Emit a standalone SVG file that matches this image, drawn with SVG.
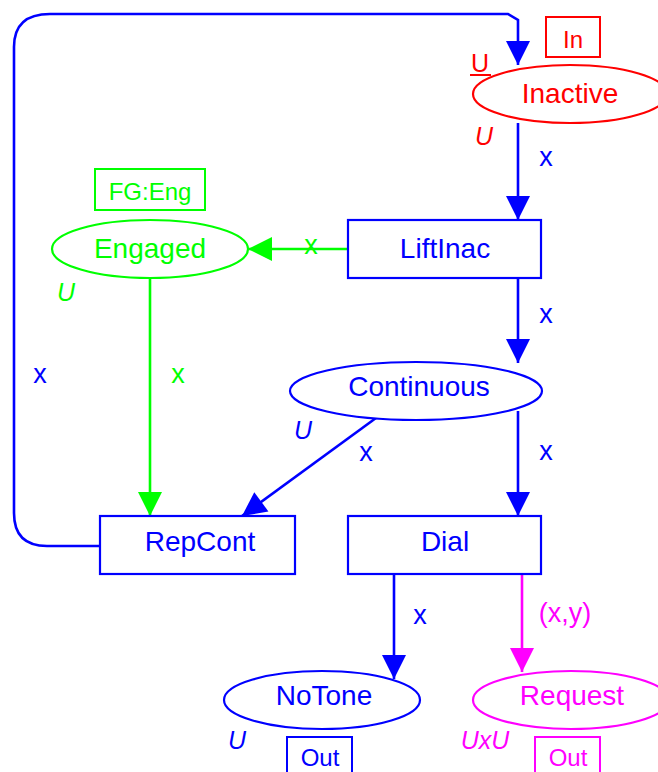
<svg xmlns="http://www.w3.org/2000/svg" width="658" height="772" viewBox="0 0 658 772">
<style>
text{font-family:"Liberation Sans",Arial,sans-serif;text-anchor:middle}
.n{font-size:28px}
.b{font-size:24px}
.l{font-size:27px}
.u{font-size:25px;font-style:italic}
.blue{fill:#0000ff}.red{fill:#ff0000}.green{fill:#00ff00}.mag{fill:#ff00ff}
.sb{stroke:#0000ff}.sr{stroke:#ff0000}.sg{stroke:#00ff00}.sm{stroke:#ff00ff}
.shape{fill:#fff;stroke-width:2.2}
.tag{fill:none;stroke-width:2}
.c{fill:none;stroke-width:2.6}
</style>
<defs>
<marker id="ab" markerUnits="userSpaceOnUse" markerWidth="26" markerHeight="26" refX="24" refY="12" orient="auto" overflow="visible"><path d="M0,0 L24,12 L0,24 z" fill="#0000ff"/></marker>
<marker id="ag" markerUnits="userSpaceOnUse" markerWidth="26" markerHeight="26" refX="24" refY="12" orient="auto" overflow="visible"><path d="M0,0 L24,12 L0,24 z" fill="#00ff00"/></marker>
<marker id="am" markerUnits="userSpaceOnUse" markerWidth="26" markerHeight="26" refX="24" refY="12" orient="auto" overflow="visible"><path d="M0,0 L24,12 L0,24 z" fill="#ff00ff"/></marker>
</defs>
<rect width="658" height="772" fill="#fff"/>
<g id="connectors">
<path class="c sb" d="M100,546 L47,546 Q14,546 14,513 L14,47 Q14,14 50,14 L508,14 L518,20 L518,65" marker-end="url(#ab)"/>
<text class="l blue" x="40" y="383">x</text>
<path class="c sb" d="M518,123 L518,220" marker-end="url(#ab)"/>
<text class="l blue" x="546" y="166">x</text>
<path class="c sg" d="M348,249 L248,249" marker-end="url(#ag)"/>
<text class="l green" x="311" y="254">x</text>
<path class="c sg" d="M150,278 L150,516" marker-end="url(#ag)"/>
<text class="l green" x="178" y="383">x</text>
<path class="c sb" d="M518,278 L518,363" marker-end="url(#ab)"/>
<text class="l blue" x="546" y="323">x</text>
<path class="c sb" d="M518,411 L518,516" marker-end="url(#ab)"/>
<text class="l blue" x="546" y="460">x</text>
<path class="c sb" d="M376,418 L242,516" marker-end="url(#ab)"/>
<text class="l blue" x="366" y="461">x</text>
<path class="c sb" d="M394,574 L394,679" marker-end="url(#ab)"/>
<text class="l blue" x="420" y="624">x</text>
<path class="c sm" d="M522,574 L522,672" marker-end="url(#am)"/>
<text class="l mag" x="565" y="622">(x,y)</text>
</g>
<g id="Inactive">
<ellipse class="shape sr" cx="570" cy="94" rx="97" ry="29"/>
<text class="n red" x="570" y="103">Inactive</text>
<rect class="tag sr" x="546" y="17" width="54" height="40"/>
<text class="b red" x="573" y="48">In</text>
<text class="u red" x="480" y="72" style="font-style:normal">U</text>
<line x1="470" y1="75" x2="491" y2="75" stroke="#ff0000" stroke-width="2"/>
<text class="u red" x="484" y="145">U</text>
</g>
<g id="LiftInac">
<rect class="shape sb" x="348" y="220" width="193" height="58"/>
<text class="n blue" x="445" y="258">LiftInac</text>
</g>
<g id="Engaged">
<ellipse class="shape sg" cx="150" cy="249" rx="98" ry="29"/>
<text class="n green" x="150" y="258">Engaged</text>
<rect class="tag sg" x="95" y="169" width="110" height="41"/>
<text class="b green" x="150" y="200">FG:Eng</text>
<text class="u green" x="66" y="301">U</text>
</g>
<g id="Continuous">
<ellipse class="shape sb" cx="416" cy="391" rx="126" ry="29"/>
<text class="n blue" x="419" y="396">Continuous</text>
<text class="u blue" x="303" y="439">U</text>
</g>
<g id="RepCont">
<rect class="shape sb" x="100" y="516" width="195" height="58"/>
<text class="n blue" x="200" y="551">RepCont</text>
</g>
<g id="Dial">
<rect class="shape sb" x="348" y="516" width="193" height="58"/>
<text class="n blue" x="445" y="551">Dial</text>
</g>
<g id="NoTone">
<ellipse class="shape sb" cx="322" cy="700" rx="98" ry="29"/>
<text class="n blue" x="324" y="705">NoTone</text>
<rect class="tag sb" x="287" y="737" width="65" height="40"/>
<text class="b blue" x="320" y="766">Out</text>
<text class="u blue" x="237" y="749">U</text>
</g>
<g id="Request">
<ellipse class="shape sm" cx="571" cy="700" rx="98" ry="29"/>
<text class="n mag" x="572" y="705">Request</text>
<rect class="tag sm" x="535" y="737" width="65" height="40"/>
<text class="b mag" x="568" y="766">Out</text>
<text class="u mag" x="485" y="749">UxU</text>
</g>
</svg>
